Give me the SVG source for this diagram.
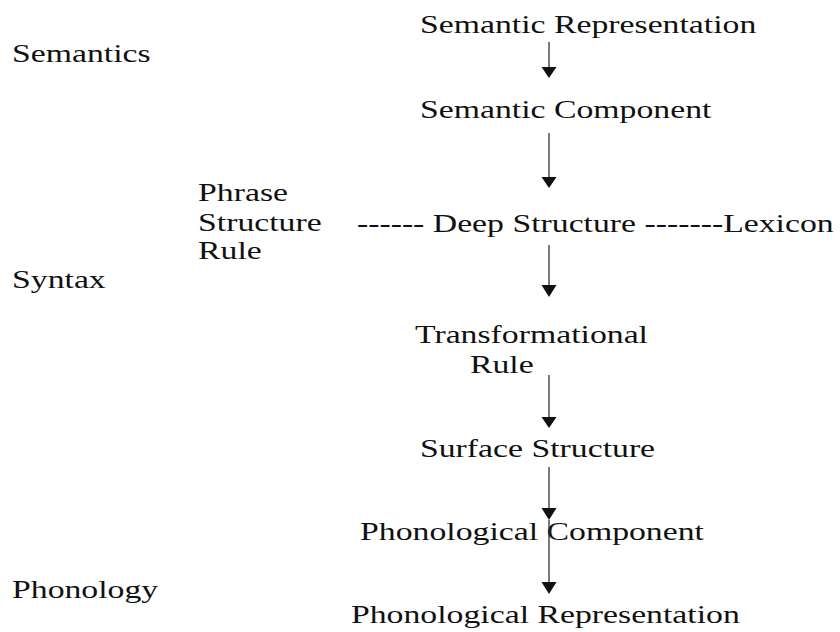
<svg xmlns="http://www.w3.org/2000/svg" width="840" height="632" viewBox="0 0 840 632">
<style>
text{font-family:"Liberation Serif","Times New Roman",serif;font-size:25px;fill:#111}
.c line{stroke:#333;stroke-width:1.3}
.c path{fill:#111}
</style>
<rect width="840" height="632" fill="#fff"/>
<g transform="scale(1.35 1)">
<g id="semantics"><text x="8.9" y="62">Semantics</text></g>
<g id="syntax"><text x="8.9" y="288">Syntax</text></g>
<g id="phonology"><text x="8.9" y="598">Phonology</text></g>
<g id="semrep"><text x="311.1" y="33">Semantic Representation</text></g>
<g id="semcomp"><text x="311.1" y="118">Semantic Component</text></g>
<g id="psr"><text x="146.7" y="201">Phrase</text><text x="146.7" y="231">Structure</text><text x="146.7" y="259">Rule</text></g>
<g id="deep"><text x="264.4" y="232">------ Deep Structure -------Lexicon</text></g>
<g id="trans"><text x="307.4" y="343">Transformational</text><text x="348.1" y="373">Rule</text></g>
<g id="surface"><text x="311.1" y="457">Surface Structure</text></g>
<g id="phoncomp"><text x="266.7" y="540">Phonological Component</text></g>
<g id="phonrep"><text x="260" y="623">Phonological Representation</text></g>
</g>
<g id="connectors" class="c">
<line x1="549" y1="42" x2="549" y2="68"/><path d="M541.5 67 L556.5 67 L549 78 Z"/>
<line x1="549" y1="133" x2="549" y2="178"/><path d="M541.5 177 L556.5 177 L549 188 Z"/>
<line x1="549" y1="245" x2="549" y2="286"/><path d="M541.5 285 L556.5 285 L549 297 Z"/>
<line x1="549" y1="375" x2="549" y2="418"/><path d="M541.5 417 L556.5 417 L549 428 Z"/>
<line x1="549" y1="467" x2="549" y2="509"/><path d="M541.5 508 L556.5 508 L549 520 Z"/>
<line x1="549" y1="520" x2="549" y2="583"/><path d="M541.5 582 L556.5 582 L549 594 Z"/>
</g>
</svg>
